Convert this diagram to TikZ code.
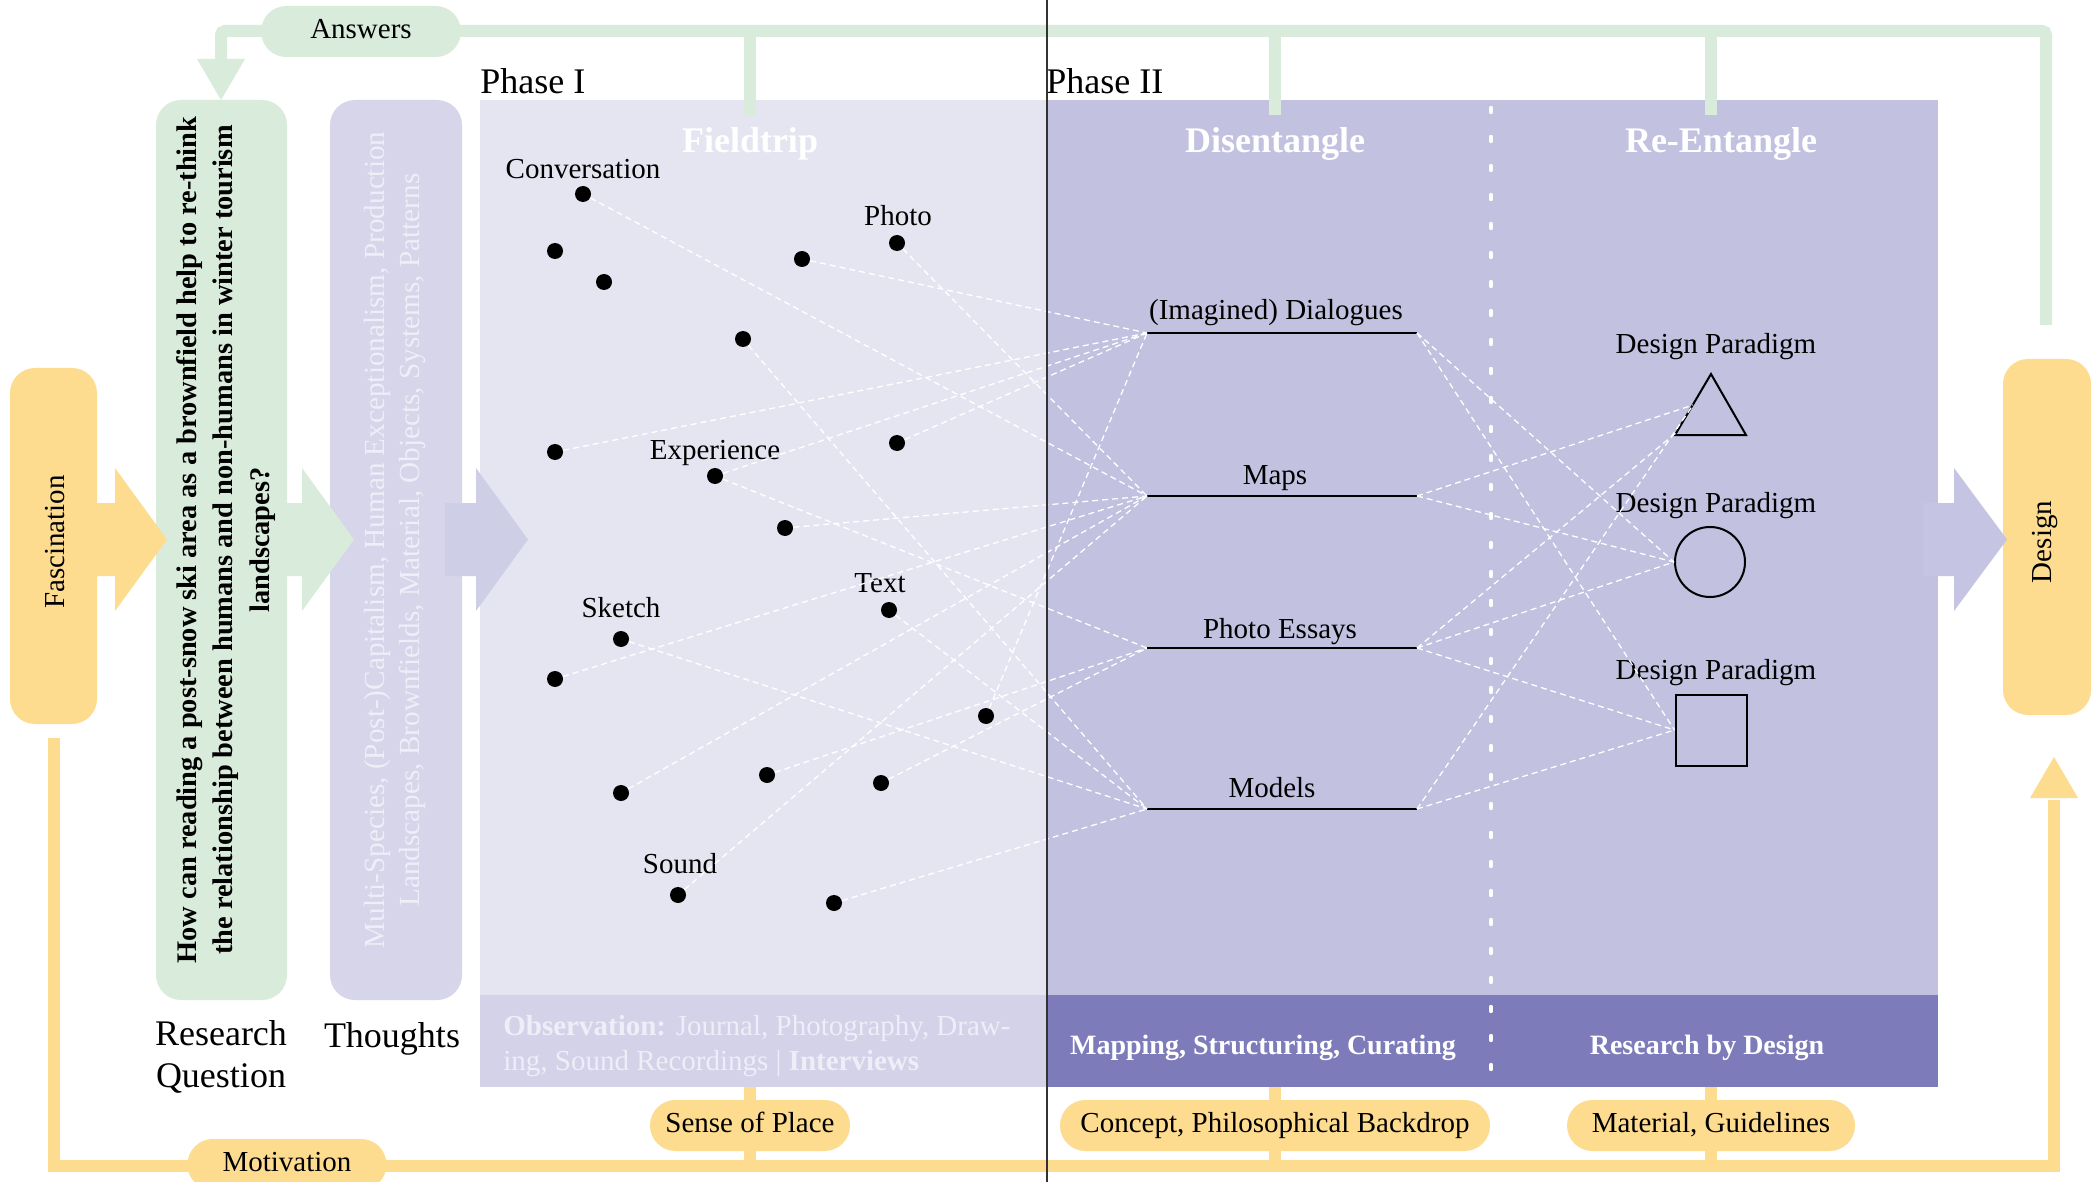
\documentclass[tikz,border=0pt]{standalone}
\usepackage{fontspec}
\setmainfont{Liberation Serif}
\definecolor{cyel}{HTML}{FDDC90}
\definecolor{cgrn}{HTML}{D9EBDB}
\definecolor{cphone}{HTML}{E5E5F1}
\definecolor{cphoneband}{HTML}{D3D2E8}
\definecolor{cphtwo}{HTML}{C2C1E0}
\definecolor{cphtwoband}{HTML}{7D7BBA}
\definecolor{cthought}{HTML}{D6D5E9}
\definecolor{carrL}{HTML}{CFCEE7}
\definecolor{carrR}{HTML}{C5C4E2}
\definecolor{cpale}{HTML}{EFEEF8}
\newcommand\fsz[2]{\fontsize{#1}{#2}\selectfont}
\begin{document}
\begin{tikzpicture}[x=0.5pt,y=-0.5pt,
  lbl/.style={font=\fsz{14.5pt}{17pt}, inner sep=0pt, text=black},
  hdr/.style={font=\fsz{18pt}{21pt}\bfseries, inner sep=0pt, text=white},
  pill/.style={fill=cyel, rounded corners=12.7pt, minimum height=25.5pt, text height=10pt, text depth=3pt, inner sep=0pt, font=\fsz{14.5pt}{17pt}},
  dotn/.style={circle, fill=black, inner sep=0pt, minimum size=8pt},
  conn/.style={white, line width=0.65pt, dash pattern=on 3pt off 2pt},
  dline/.style={black, line width=1.1pt},
  shp/.style={draw=black, line width=1pt, inner sep=0pt},
  gline/.style={cgrn, line width=6pt},
  yline/.style={cyel, line width=6pt},
  boxn/.style={inner sep=0pt, rounded corners=12.5pt},
  bandtxt/.style={font=\fsz{14.5pt}{17pt}, inner sep=0pt},
]
\useasboundingbox (0,0) rectangle (2100,1182);
\fill[white] (0,0) rectangle (2100,1182);

% ---------- feedback lines ----------
\coordinate (gstart) at (2046,325);
\coordinate (gleft) at (221,31);
\coordinate (gdown) at (221,62);
\draw[gline, rounded corners=2pt] (gstart) |- (gleft) -- (gdown);
\fill[cgrn] (197,59) -- (245,59) -- (221,100) -- cycle;

\coordinate (ystart) at (54,738);
\coordinate (ycorner) at (2054,1166);
\coordinate (yup) at (2054,800);
\draw[yline] (ystart) |- (ycorner) -- (yup);
\fill[cyel] (2030,798) -- (2078,798) -- (2054,757) -- cycle;

% ---------- panels ----------
\fill[cphone] (480,100) rectangle (1047,995);
\fill[cphoneband] (480,995) rectangle (1047,1087);
\fill[cphtwo] (1047,100) rectangle (1938,995);
\fill[cphtwoband] (1047,995) rectangle (1938,1087);

% stubs
\draw[gline] (750,31) -- (750,115);
\draw[gline] (1275,31) -- (1275,115);
\draw[gline] (1711,31) -- (1711,115);
\draw[yline] (750,1087) -- (750,1166);
\draw[yline] (1275,1087) -- (1275,1166);
\draw[yline] (1711,1087) -- (1711,1166);

% ---------- boxes ----------
\node[boxn, fill=cyel, minimum width=43.5pt, minimum height=178pt] (fasc) at (53.5,546) {};
\node[boxn, fill=cgrn, minimum width=65.5pt, minimum height=450pt] (rq) at (221.5,550) {};
\node[boxn, fill=cthought, minimum width=66pt, minimum height=450pt] (thought) at (396,550) {};
\node[boxn, fill=cyel, minimum width=44pt, minimum height=178pt] (design) at (2047,537) {};

% ---------- block arrows ----------
\fill[cyel] (97,503) -- (115,503) -- (115,468) -- (167,539.5) -- (115,611) -- (115,576) -- (97,576) -- cycle;
\fill[cgrn] (287,503) -- (302,503) -- (302,468) -- (354,539.5) -- (302,611) -- (302,576) -- (287,576) -- cycle;
\fill[carrL] (445,503) -- (476,503) -- (476,468) -- (528,539.5) -- (476,611) -- (476,576) -- (445,576) -- cycle;
\fill[carrR] (1923,503) -- (1954,503) -- (1954,468) -- (2007,539.5) -- (1954,611) -- (1954,576) -- (1923,576) -- cycle;

% ---------- box texts ----------
\node[lbl, rotate=90] (fasctxt) at (55,542) {Fascination};
\node[lbl, rotate=90] (designtxt) at (2045,542) {Design};
\node[rotate=90, align=center, inner sep=0pt, font=\fsz{14.2pt}{18.2pt}\bfseries] (rqtxt) at (226,540)
  {How can reading a post-snow ski area as a brownfield help to re-think\\
   the relationship between humans and non-humans in winter tourism\\
   landscapes?};
\node[rotate=90, align=center, inner sep=0pt, text=cpale, font=\fsz{14.6pt}{17.5pt}] (thtxt) at (395,540)
  {Multi-Species, (Post-)Capitalism, Human Exceptionalism, Production\\
   Landscapes, Brownfields, Material, Objects, Systems, Patterns};

\node[lbl, font=\fsz{18pt}{21pt}, anchor=base] (rlab1) at (221,1045) {Research};
\node[lbl, font=\fsz{18pt}{21pt}, anchor=base] (rlab2) at (221,1087) {Question};
\node[lbl, font=\fsz{18pt}{21pt}, anchor=base] (tlab) at (392,1047) {Thoughts};

% ---------- phase labels & headers ----------
\node[lbl, font=\fsz{18pt}{21pt}, anchor=base west] (ph1) at (480,94) {Phase I};
\node[lbl, font=\fsz{18pt}{21pt}, anchor=base west] (ph2) at (1046,94) {Phase II};
\node[hdr, anchor=base] (hfield) at (750,153) {Fieldtrip};
\node[hdr, anchor=base] (hdis) at (1275,153) {Disentangle};
\node[hdr, anchor=base] (hre) at (1721,153) {Re-Entangle};

% ---------- band texts ----------
\node[bandtxt, text=cpale, anchor=base west] (obs1) at (503,1035) {\textbf{Observation:} Journal, Photography, Draw-};
\node[bandtxt, text=cpale, anchor=base west] (obs2) at (503,1070) {ing, Sound Recordings | \textbf{Interviews}};
\node[bandtxt, text=white, font=\fsz{14pt}{17pt}\bfseries, anchor=base] (mapcur) at (1263,1054) {Mapping, Structuring, Curating};
\node[bandtxt, text=white, font=\fsz{14pt}{17pt}\bfseries, anchor=base] (rbd) at (1707,1054) {Research by Design};

% ---------- pills ----------
\node[pill, fill=cgrn, minimum width=100pt] (answers) at (361,31.5) {Answers};
\node[pill, minimum width=100pt] (sense) at (750,1125.5) {Sense of Place};
\node[pill, minimum width=215pt] (concept) at (1275,1125.5) {Concept, Philosophical Backdrop};
\node[pill, minimum width=144pt] (material) at (1711,1125.5) {Material, Guidelines};
\node[pill, minimum width=99.5pt] (motiv) at (287,1164.5) {Motivation};

% ---------- divider ----------
\draw[white, line width=2.2pt, line cap=round, dash pattern=on 2pt off 12.5pt] (1491,108) -- (1491,1082);

% ---------- disentangle lines ----------
\coordinate (dlgL) at (1147,333);  \coordinate (dlgR) at (1417,333);
\coordinate (mapL) at (1147,496);  \coordinate (mapR) at (1417,496);
\coordinate (phoL) at (1147,648);  \coordinate (phoR) at (1417,648);
\coordinate (modL) at (1147,809);  \coordinate (modR) at (1417,809);
\draw[dline] (dlgL) -- (dlgR);
\draw[dline] (mapL) -- (mapR);
\draw[dline] (phoL) -- (phoR);
\draw[dline] (modL) -- (modR);
\node[lbl, anchor=base] (tdlg) at (1276,320) {(Imagined) Dialogues};
\node[lbl, anchor=base] (tmap) at (1275,484) {Maps};
\node[lbl, anchor=base] (tpho) at (1280,638) {Photo Essays};
\node[lbl, anchor=base] (tmod) at (1272,797) {Models};

% ---------- design paradigms ----------
\node[lbl, anchor=base] (dp1) at (1716,354) {Design Paradigm};
\node[lbl, anchor=base] (dp2) at (1716,512) {Design Paradigm};
\node[lbl, anchor=base] (dp3) at (1716,679) {Design Paradigm};
\coordinate (triA) at (1711,374);
\coordinate (triB) at (1746,435);
\coordinate (triC) at (1675,435);
\draw[black, line width=1pt, line join=miter] (triA) -- (triB) -- (triC) -- cycle;
\coordinate (triM) at (1693,405);
\coordinate (triL) at (1677,432);
\node[shp, circle, minimum size=35pt] (circ) at (1710,562) {};
\node[shp, rectangle, minimum size=35.5pt] (sq) at (1711,730) {};

% ---------- field trip dots ----------
\node[dotn] (d1) at (583,194) {};
\node[dotn] (d2) at (555,251) {};
\node[dotn] (d3) at (604,282) {};
\node[dotn] (d4) at (802,259) {};
\node[dotn] (d5) at (897,243) {};
\node[dotn] (d6) at (743,339) {};
\node[dotn] (d7) at (555,452) {};
\node[dotn] (d8) at (897,443) {};
\node[dotn] (d9) at (715,476) {};
\node[dotn] (d10) at (785,528) {};
\node[dotn] (d11) at (889,610) {};
\node[dotn] (d12) at (621,639) {};
\node[dotn] (d13) at (555,679) {};
\node[dotn] (d14) at (986,716) {};
\node[dotn] (d15) at (767,775) {};
\node[dotn] (d16) at (621,793) {};
\node[dotn] (d17) at (881,783) {};
\node[dotn] (d18) at (678,895) {};
\node[dotn] (d19) at (834,903) {};

\node[lbl, anchor=base] (lconv) at (583,179) {Conversation};
\node[lbl, anchor=base] (lphoto) at (898,226) {Photo};
\node[lbl, anchor=base] (lexp) at (715,459) {Experience};
\node[lbl, anchor=base] (ltext) at (880,592) {Text};
\node[lbl, anchor=base] (lsketch) at (621,617) {Sketch};
\node[lbl, anchor=base] (lsound) at (680,873) {Sound};

% ---------- dashed connectors (left) ----------
\draw[conn] (d1) -- (mapL);
\draw[conn] (d4) -- (dlgL);
\draw[conn] (d5) -- (mapL);
\draw[conn] (d6) -- (modL);
\draw[conn] (d7) -- (dlgL);
\draw[conn] (d8) -- (dlgL);
\draw[conn] (d9) -- (dlgL);
\draw[conn] (d9) -- (phoL);
\draw[conn] (d10) -- (mapL);
\draw[conn] (d11) -- (modL);
\draw[conn] (d12) -- (modL);
\draw[conn] (d13) -- (mapL);
\draw[conn] (d14) -- (dlgL);
\draw[conn] (d15) -- (phoL);
\draw[conn] (d16) -- (mapL);
\draw[conn] (d17) -- (phoL);
\draw[conn] (d18) -- (mapL);
\draw[conn] (d19) -- (modL);

% ---------- dashed connectors (right) ----------
\draw[conn] (dlgR) -- (circ.west);
\draw[conn] (dlgR) -- (sq.west);
\draw[conn] (mapR) -- (triM);
\draw[conn] (mapR) -- (circ.west);
\draw[conn] (phoR) -- (triL);
\draw[conn] (phoR) -- (circ.west);
\draw[conn] (phoR) -- (sq.west);
\draw[conn] (modR) -- (triM);
\draw[conn] (modR) -- (sq.west);

% ---------- phase divider line ----------
\coordinate (vtop) at (1047,0);
\coordinate (vbot) at (1047,1182);
\draw[black!80, line width=0.8pt] (vtop) -- (vbot);
\end{tikzpicture}
\end{document}
